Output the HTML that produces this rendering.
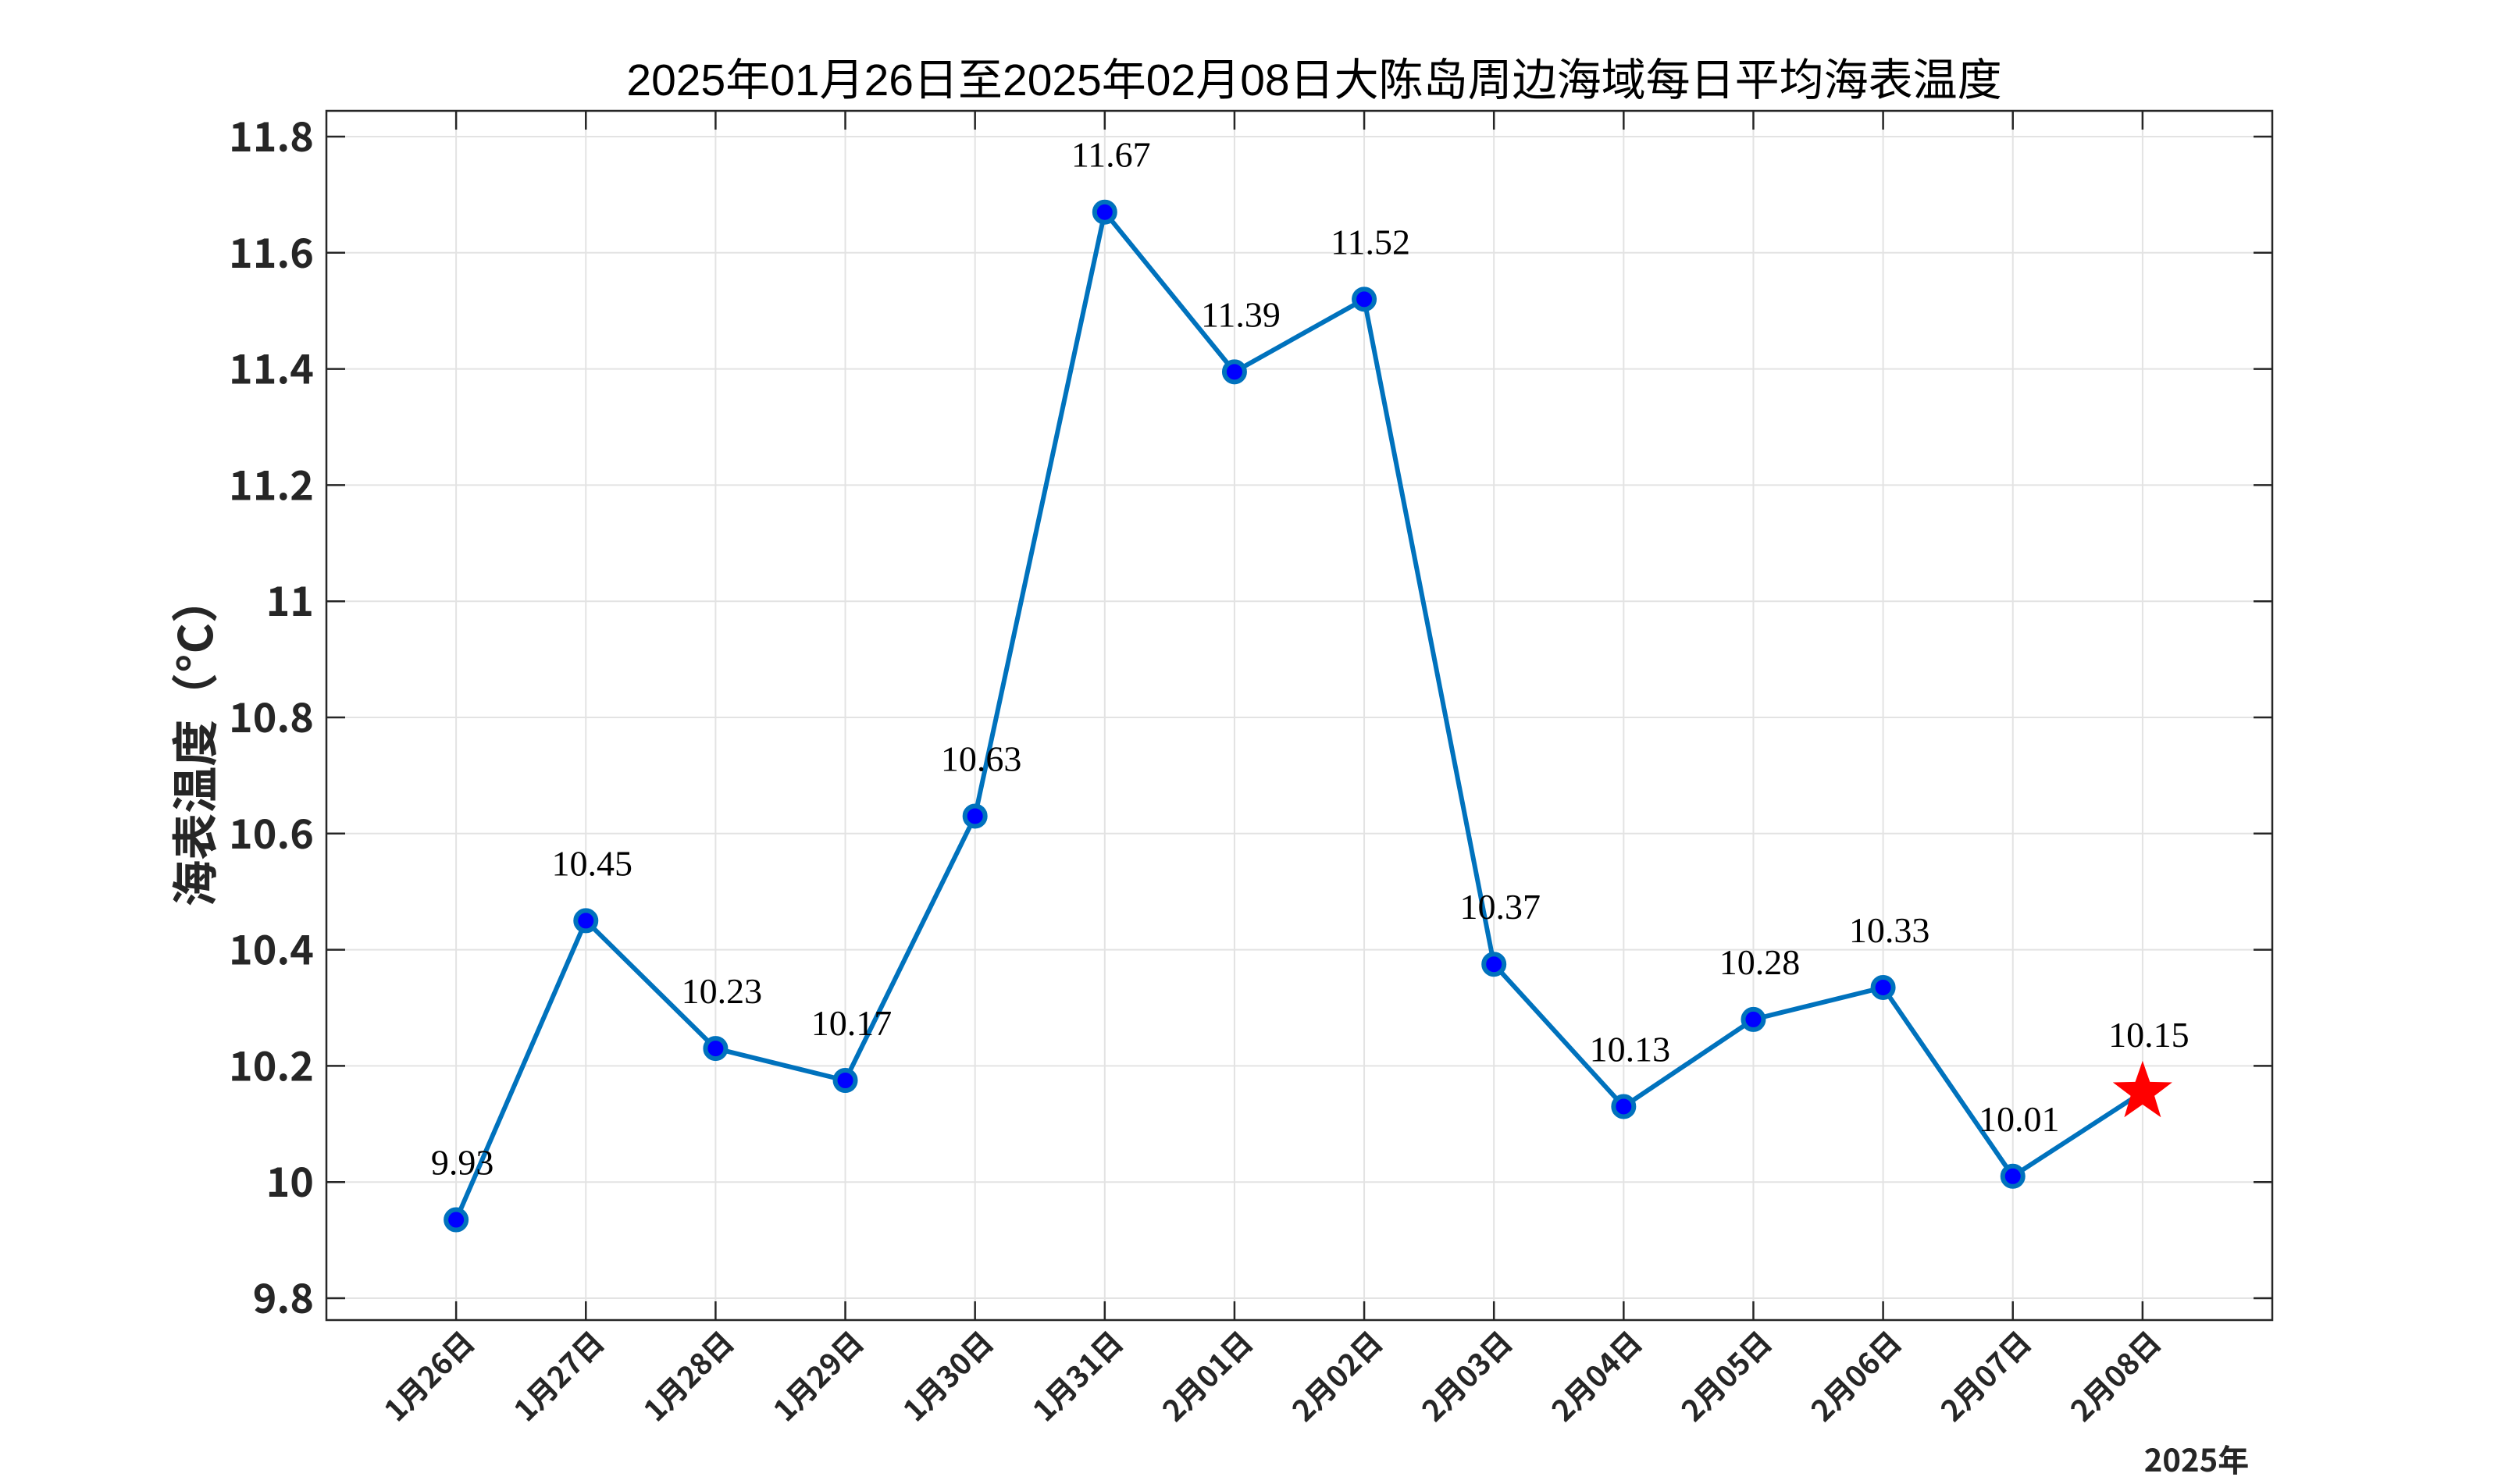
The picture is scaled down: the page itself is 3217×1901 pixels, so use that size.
<!DOCTYPE html>
<html><head><meta charset="utf-8">
<style>
html,body{margin:0;padding:0;background:#fff;}
svg{display:block;}
</style></head>
<body>
<svg id="chart" width="3217" height="1901" xmlns="http://www.w3.org/2000/svg">
  <rect x="0" y="0" width="3217" height="1901" fill="#fff"/>
  <text x="1683" y="122" text-anchor="middle" font-family="Liberation Sans, Noto Sans CJK SC, sans-serif" font-size="57" fill="#000">2025年01月26日至2025年02月08日大陈岛周边海域每日平均海表温度</text>
  <text transform="translate(272,950) rotate(-90)" text-anchor="middle" font-family="Noto Sans CJK SC, sans-serif" font-weight="bold" font-size="60" fill="#262626">海表温度（°C）</text>
  <text x="2813" y="1885" text-anchor="middle" font-family="Noto Sans CJK SC, sans-serif" font-weight="bold" font-size="40" fill="#262626">2025年</text>
  <g id="grid"></g>
  <g id="axes"></g>
  <g id="series"></g>
</svg>
<script>
const categories = ["1月26日","1月27日","1月28日","1月29日","1月30日","1月31日","2月01日","2月02日","2月03日","2月04日","2月05日","2月06日","2月07日","2月08日"];
const values = [9.935, 10.45, 10.23, 10.175, 10.63, 11.67, 11.395, 11.52, 10.375, 10.13, 10.28, 10.335, 10.01, 10.155];
const valueLabels = ["9.93","10.45","10.23","10.17","10.63","11.67","11.39","11.52","10.37","10.13","10.28","10.33","10.01","10.15"];
const yTicks = [9.8, 10, 10.2, 10.4, 10.6, 10.8, 11, 11.2, 11.4, 11.6, 11.8];
const yTickLabels = ["9.8","10","10.2","10.4","10.6","10.8","11","11.2","11.4","11.6","11.8"];

const NS = "http://www.w3.org/2000/svg";
const L = 418, R = 2910, T = 142, B = 1691;
const xMin = 0, xMax = 15;
const yMin = 11.8 - (1691 - 175) / 744, yMax = 11.8 + (175 - 142) / 744;
function xs(i){ return L + (i + 1 - xMin) / (xMax - xMin) * (R - L); }
function ys(v){ return B - (v - yMin) / (yMax - yMin) * (B - T); }
function mk(tag, attrs, parent, text){
  const e = document.createElementNS(NS, tag);
  for (const k in attrs) e.setAttribute(k, attrs[k]);
  if (text !== undefined) e.textContent = text;
  parent.appendChild(e);
  return e;
}
const grid = document.getElementById('grid');
const axes = document.getElementById('axes');
const series = document.getElementById('series');

// grid
yTicks.forEach((t) => {
  const g = mk('line', {x1:L, x2:R, y1:ys(t), y2:ys(t), stroke:'#e3e3e3', 'stroke-width':2}, grid);
  
  
});
categories.forEach((c, i) => {
  const g = mk('line', {x1:xs(i), x2:xs(i), y1:T, y2:B, stroke:'#e3e3e3', 'stroke-width':2}, grid);
  
  
});

// axes box
const box = mk('rect', {x:L, y:T, width:R-L, height:B-T, fill:'none', stroke:'#262626', 'stroke-width':2.5}, axes);



yTicks.forEach((t, i) => {
  const y = ys(t);
  const a = mk('line', {x1:L, x2:L+24, y1:y, y2:y, stroke:'#262626', 'stroke-width':2.5}, axes);
  
  
  const b = mk('line', {x1:R-24, x2:R, y1:y, y2:y, stroke:'#262626', 'stroke-width':2.5}, axes);
  
  
  const lbl = mk('text', {x:402, y:y+19, 'text-anchor':'end', 'font-family':'Noto Sans CJK SC, sans-serif', 'font-weight':'bold', 'font-size':52, fill:'#262626'}, axes, yTickLabels[i]);
  
  
});

categories.forEach((c, i) => {
  const x = xs(i);
  const a = mk('line', {x1:x, x2:x, y1:B, y2:B-24, stroke:'#262626', 'stroke-width':2.5}, axes);
  
  
  const b = mk('line', {x1:x, x2:x, y1:T, y2:T+24, stroke:'#262626', 'stroke-width':2.5}, axes);
  
  
  const lbl = mk('text', {transform:'translate(' + (x+26) + ',' + 1722 + ') rotate(-45)', 'text-anchor':'end', 'font-family':'Noto Sans CJK SC, sans-serif', 'font-weight':'bold', 'font-size':38, fill:'#262626'}, axes, c);
  
  
});

// line
const pts = values.map((v, i) => xs(i) + ',' + ys(v)).join(' ');
const line = mk('polyline', {points:pts, fill:'none', stroke:'#0072BD', 'stroke-width':6, 'stroke-linejoin':'round'}, series);



values.forEach((v, i) => {
  const x = xs(i), y = ys(v);
  if (i < values.length - 1) {
    const m = mk('circle', {cx:x, cy:y, r:13, fill:'#0000FF', stroke:'#0072BD', 'stroke-width':6}, series);
    
    
  } else {
    const ro = 40, ri = 16;
    let p = [];
    for (let k = 0; k < 10; k++) {
      const r = k % 2 === 0 ? ro : ri;
      const ang = -Math.PI/2 + k * Math.PI/5;
      p.push((x + r*Math.cos(ang)).toFixed(1) + ',' + (y + r*Math.sin(ang)).toFixed(1));
    }
    const s = mk('polygon', {points:p.join(' '), fill:'#FF0000'}, series);
    
    
  }
  const t = mk('text', {x:x+8, y:y-58, 'text-anchor':'middle', 'font-family':'Liberation Serif, serif', 'font-size':46, fill:'#000'}, series, valueLabels[i]);
  
  
});
</script>
</body></html>
